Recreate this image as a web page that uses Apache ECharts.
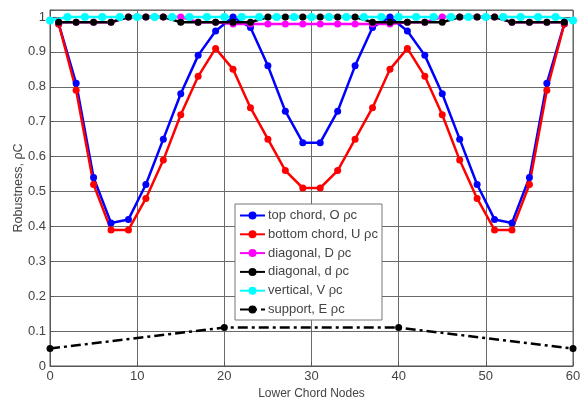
<!DOCTYPE html>
<html><head><meta charset="utf-8">
<script src="https://cdn.jsdelivr.net/npm/echarts@6/dist/echarts.min.js"></script>
<style>html,body{margin:0;padding:0;background:#fff}#c{width:581px;height:398px}</style>
</head><body><div id="c"></div>
<script>
const seriesNames = ['top chord, O ρc','bottom chord, U ρc','diagonal, D ρc','diagonal, d ρc','vertical, V ρc','support, E ρc'];
const oddNodes = [1,3,5,7,9,11,13,15,17,19,21,23,25,27,29,31,33,35,37,39,41,43,45,47,49,51,53,55,57,59];
const evenNodes = [0,2,4,6,8,10,12,14,16,18,20,22,24,26,28,30,32,34,36,38,40,42,44,46,48,50,52,54,56,58,60];
const supportNodes = [0,20,40,60];
const topO = [0.98,0.81,0.54,0.41,0.42,0.52,0.65,0.78,0.89,0.96,1.0,0.97,0.86,0.73,0.64,0.64,0.73,0.86,0.97,1.0,0.96,0.89,0.78,0.65,0.52,0.42,0.41,0.54,0.81,0.98];
const bottomU = [0.98,0.79,0.52,0.39,0.39,0.48,0.59,0.72,0.83,0.91,0.85,0.74,0.65,0.56,0.51,0.51,0.56,0.65,0.74,0.85,0.91,0.83,0.72,0.59,0.48,0.39,0.39,0.52,0.79,0.98];
const diagD = [0.985,0.985,0.985,0.985,1.0,1.0,1.0,1.0,0.985,0.985,0.98,0.98,0.98,0.98,0.98,0.98,0.98,0.98,0.98,0.98,0.985,0.985,1.0,1.0,1.0,1.0,0.985,0.985,0.985,0.985];
const diagd = [0.985,0.985,0.985,0.985,1.0,1.0,1.0,0.985,0.985,0.985,0.985,0.985,1.0,1.0,1.0,1.0,1.0,1.0,0.985,0.985,0.985,0.985,0.985,1.0,1.0,1.0,0.985,0.985,0.985,0.985];
const vertV = [0.99,1.0,1.0,1.0,1.0,1.0,1.0,1.0,1.0,1.0,1.0,1.0,1.0,1.0,1.0,1.0,1.0,1.0,1.0,1.0,1.0,1.0,1.0,1.0,1.0,1.0,1.0,1.0,1.0,1.0,0.99];
const supportE = [0.05,0.11,0.11,0.05];
const xTicks = [0,10,20,30,40,50,60];
const yTicks = [0,0.1,0.2,0.3,0.4,0.5,0.6,0.7,0.8,0.9,1];

const zip = (xs, ys) => xs.map((x, i) => [x, ys[i]]);
const font = 'Liberation Sans, Arial, sans-serif';
const txt = '#444';

function ser(name, xs, ys, color, opts) {
  return Object.assign({
    name, type: 'line', data: zip(xs, ys),
    symbol: 'circle', symbolSize: 7,
    itemStyle: { color },
    lineStyle: { color, width: 2.5 },
    animation: false
  }, opts || {});
}

const chart = echarts.init(document.getElementById('c'), null, { renderer: 'canvas' });
chart.setOption({
  animation: false,
  grid: { left: 50, right: 8, top: 10, bottom: 32, outerBoundsMode: 'none', containLabel: false,
    show: true, borderColor: '#555', borderWidth: 1 },
  xAxis: {
    type: 'value', min: 0, max: 60, interval: 10,
    name: 'Lower Chord Nodes', nameLocation: 'middle', nameGap: 17,
    nameTextStyle: { fontFamily: font, fontSize: 12, color: txt },
    axisLine: { show: true, lineStyle: { color: '#555' } },
    axisTick: { show: true, inside: true, length: 4, lineStyle: { color: '#555' } },
    axisLabel: { fontFamily: font, fontSize: 13, color: txt, margin: 4,
      formatter: v => (xTicks.indexOf(v) >= 0 ? String(v) : '') },
    splitLine: { show: true, lineStyle: { color: '#6a6a6a', width: 1 } }
  },
  yAxis: {
    type: 'value', min: 0, max: 1.02, interval: 0.1,
    name: 'Robustness, ρC', nameLocation: 'middle', nameGap: 25, nameMoveOverlap: false,
    nameTextStyle: { fontFamily: font, fontSize: 12.5, color: txt },
    axisLine: { show: true, lineStyle: { color: '#555' } },
    axisTick: { show: true, inside: true, length: 4, lineStyle: { color: '#555' } },
    axisLabel: { fontFamily: font, fontSize: 13, color: txt, margin: 4,
      formatter: v => (yTicks.some(t => Math.abs(t - v) < 1e-6) ? String(+v.toFixed(1)) : '') },
    splitLine: { show: true, lineStyle: { color: '#6a6a6a', width: 1 } }
  },
  legend: {
    orient: 'vertical', left: 235, top: 204,
    itemWidth: 25, itemHeight: 10, itemGap: 5.8,
    padding: [5, 4, 4, 4],
    backgroundColor: '#fff', borderColor: '#777', borderWidth: 1,
    textStyle: { fontFamily: font, fontSize: 13, color: txt, padding: [0, 0, 0, -2] },
    data: seriesNames
  },
  series: [
    ser(seriesNames[0], oddNodes, topO, '#0000ff'),
    ser(seriesNames[1], oddNodes, bottomU, '#ff0000'),
    ser(seriesNames[2], oddNodes, diagD, '#ff00ff'),
    ser(seriesNames[3], oddNodes, diagd, '#000000'),
    ser(seriesNames[4], evenNodes, vertV, '#00ffff', { symbolSize: 8 }),
    ser(seriesNames[5], supportNodes, supportE, '#000000', { lineStyle: { color: '#000', width: 2.5, type: [10, 4, 3, 4] } })
  ]
});
</script></body></html>
